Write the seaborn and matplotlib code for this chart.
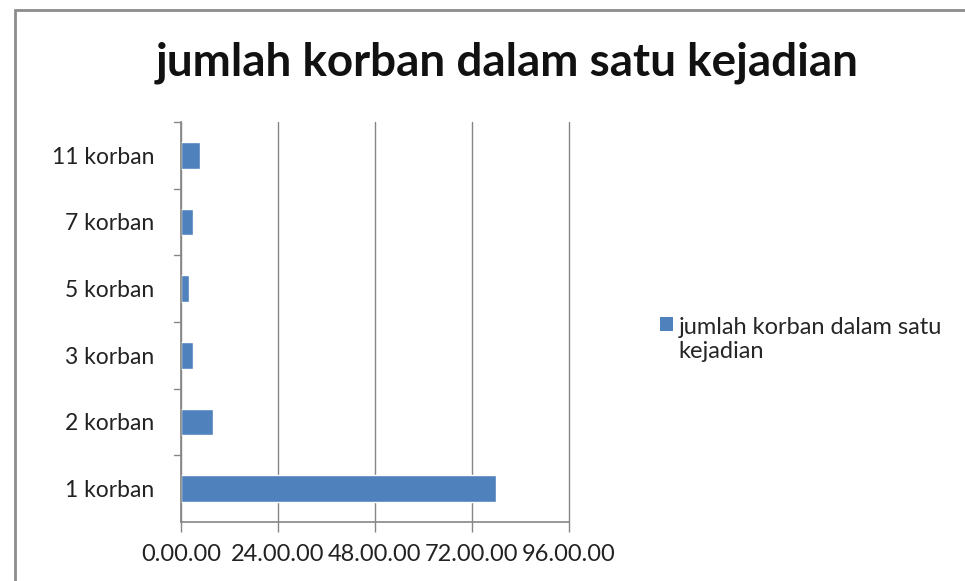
import matplotlib

matplotlib.use("Agg")

import matplotlib.pyplot as plt
import pandas as pd
import seaborn as sns
from matplotlib.patches import Patch, Rectangle

CATEGORIES = ["1 korban", "2 korban", "3 korban", "5 korban", "7 korban", "11 korban"]
VALUES = [78, 8, 3, 2, 3, 4.8]
SERIES = "jumlah korban dalam satu kejadian"
X_TICKS = [0, 24, 48, 72, 96]
X_TICK_LABELS = ["0.00.00", "24.00.00", "48.00.00", "72.00.00", "96.00.00"]

BAR_COLOR = "#4F81BD"
GRID_COLOR = "#868686"

sns.set_theme(style="white")
plt.rcParams["font.family"] = ["Lato", "DejaVu Sans"]

df = pd.DataFrame({"Kategori": CATEGORIES, "Jumlah": VALUES})

fig = plt.figure(figsize=(9.65, 5.81), dpi=100)
ax = fig.add_axes([181 / 965, 1 - 522 / 581, (569 - 181) / 965, (522 - 122) / 581])

sns.barplot(
    data=df,
    x="Jumlah",
    y="Kategori",
    order=CATEGORIES[::-1],
    color=BAR_COLOR,
    saturation=1,
    width=0.4,
    orient="h",
    ax=ax,
)

ax.set_xlim(0, 96)
ax.set_ylim(5.5, -0.5)
ax.set_xticks(X_TICKS)
ax.set_xticklabels(X_TICK_LABELS, fontsize=17, color="#222222")
ax.set_xlabel("")
ax.set_ylabel("")
ax.tick_params(axis="y", labelsize=16.5, labelcolor="#222222", length=0, pad=19)
ax.tick_params(axis="x", length=7, width=1, color=GRID_COLOR, direction="out", pad=9, bottom=True)
ax.xaxis.grid(True, color=GRID_COLOR, linewidth=1)
for line in ax.get_xgridlines():
    line.set_clip_on(False)
ax.set_axisbelow(True)

# Excel-style ticks between categories on the value axis
for boundary in [0.5, 1.5, 2.5, 3.5, 4.5, -0.5]:
    ax.plot([-0.018, 0], [boundary, boundary], transform=ax.get_yaxis_transform(),
            color=GRID_COLOR, linewidth=1, clip_on=False)

for side in ["top", "right"]:
    ax.spines[side].set_visible(False)
for side in ["left", "bottom"]:
    ax.spines[side].set_color(GRID_COLOR)
    ax.spines[side].set_linewidth(1.2)

fig.text(507 / 965, 1 - 63 / 581, SERIES, ha="center", va="center",
         fontsize=33, fontweight="bold", color="#111111")

leg = fig.legend(
    handles=[Patch(facecolor=BAR_COLOR, edgecolor="none")],
    labels=["jumlah korban dalam satu\nkejadian"],
    loc="upper left",
    bbox_to_anchor=(648 / 965, 1 - 305 / 581),
    frameon=False,
    fontsize=17,
    handlelength=0.55,
    handleheight=0.55,
    handletextpad=0.25,
    borderpad=0,
)
# keep the square next to the first line of the wrapped label
for row in leg._legend_handle_box.get_children()[0].get_children():
    row.align = "top"
    handle_box = row.get_children()[0]
    handle_box.set_offset((0, -6))

fig.patches.append(Rectangle((15 / 965, -0.1), 1.1, 1 - 10 / 581 + 0.1, transform=fig.transFigure,
                             fill=False, edgecolor="#8C8C8C", linewidth=2))

fig.savefig("out.png", dpi=100)
